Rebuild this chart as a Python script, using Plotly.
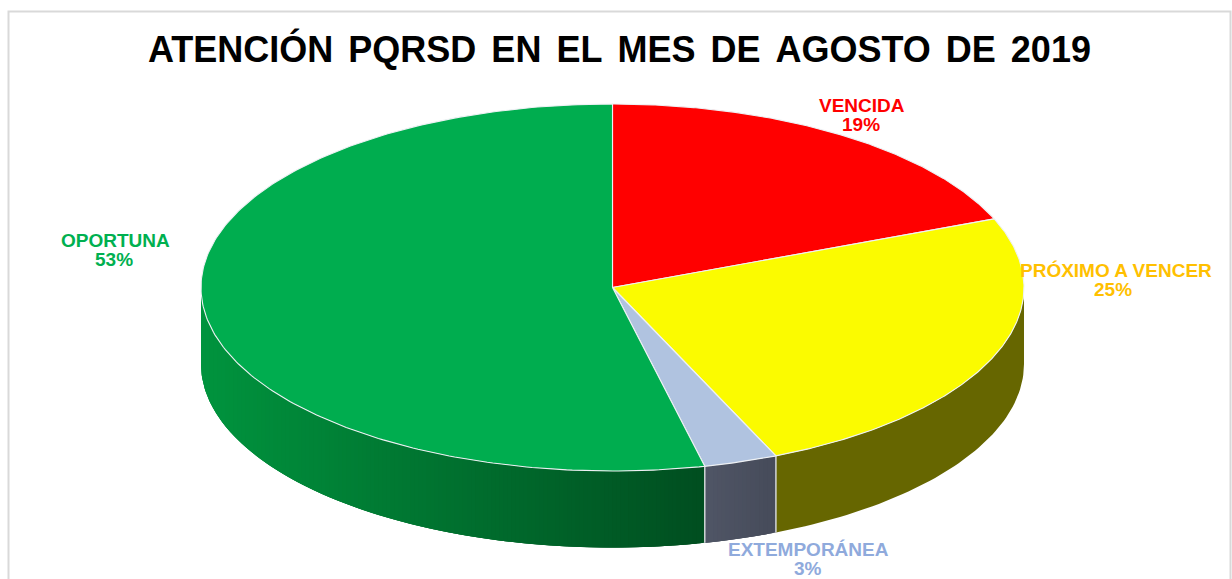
import numpy as np
import plotly.graph_objects as go

categories = ["VENCIDA", "PRÓXIMO A VENCER", "EXTEMPORÁNEA", "OPORTUNA"]
values = [18.9, 24.6, 2.9, 53.6]
percent_labels = ["19%", "25%", "3%", "53%"]
top_colors = ["#FF0000", "#FBFB00", "#B0C3E0", "#00AD4F"]
label_colors = ["#FF0000", "#FFC000", "#8FAADC", "#00B050"]
title_text = "ATENCIÓN PQRSD EN EL MES DE AGOSTO DE 2019".replace(" ", "\u2004\u200a")

CX, CY, RX, RY, DEPTH = 612.5, 287.5, 411.5, 183.5, 76.5


def px(t):
    return CX + RX * np.sin(t)


def py(t):
    return CY - RY * np.cos(t)


def lerp_color(a, b, f):
    return "rgb({},{},{})".format(*[int(round(a[i] + (b[i] - a[i]) * f)) for i in range(3)])


fig = go.Figure()
edges = np.concatenate([[0], np.cumsum(values)]) / sum(values) * 2 * np.pi

# side wall: only the front half (pi/2 .. 3pi/2) is visible
side_styles = [
    None,
    ((102, 102, 0), (102, 102, 0)),
    ((70, 75, 90), (80, 86, 102)),
    ((0, 78, 32), (0, 148, 62)),
]
lo, hi = np.pi / 2, 3 * np.pi / 2
for i, style in enumerate(side_styles):
    if style is None:
        continue
    a, b = max(edges[i], lo), min(edges[i + 1], hi)
    if a >= b:
        continue
    xa, xb = px(a), px(b)
    n = 1 if style[0] == style[1] else max(4, int(abs(xa - xb) / 4))
    # cut at even x steps so that the shading bands run straight down
    cut_x = np.linspace(xa, xb, n + 1)
    cuts = np.pi - np.arcsin(np.clip((cut_x - CX) / RX, -1, 1))
    cuts[0], cuts[-1] = a, b
    for j in range(n):
        # each band reaches under the following ones, so no seam shows
        end = cuts[min(j + 3, n)]
        ts = np.linspace(cuts[j], end, 60 if n == 1 else 14)
        xs, ys = px(ts), py(ts)
        f = (xa - cut_x[j]) / abs(xa - xb)
        col = lerp_color(style[0], style[1], f)
        fig.add_trace(go.Scatter(
            x=np.r_[xs, xs[::-1]], y=np.r_[ys, ys[::-1] + DEPTH],
            mode="lines", fill="toself", fillcolor=col,
            line=dict(width=0), hoverinfo="skip", showlegend=False))

# vertical white seams on the wall
for e in edges[1:-1]:
    if lo < e < hi:
        fig.add_trace(go.Scatter(
            x=[px(e), px(e)], y=[py(e), py(e) + DEPTH], mode="lines",
            line=dict(color="#DADDE0", width=1.4), hoverinfo="skip", showlegend=False))

# top faces
for i, cat in enumerate(categories):
    ts = np.linspace(edges[i], edges[i + 1], 240)
    fig.add_trace(go.Scatter(
        x=np.r_[CX, px(ts), CX], y=np.r_[CY, py(ts), CY],
        mode="lines", fill="toself", fillcolor=top_colors[i],
        line=dict(color="#EEF1F4", width=1.1), name=cat, hoverinfo="name", showlegend=False))

name_anchor = [(862, 105), (1115.5, 270), (808.5, 549), (115, 240)]
pct_anchor = [(861, 124), (1113, 289), (808, 568), (114, 259)]
label_font = dict(family="Liberation Sans", size=19, weight="bold")
for cat, pct, col, na, pa in zip(categories, percent_labels, label_colors, name_anchor, pct_anchor):
    for text, (lx, ly) in ((cat, na), (pct, pa)):
        fig.add_annotation(x=lx, y=ly, text=text, showarrow=False,
                           font=dict(label_font, color=col),
                           xanchor="center", yanchor="middle")

fig.add_annotation(x=619.5, y=49, text=title_text, showarrow=False,
                   font=dict(family="Liberation Sans", size=36, color="#000000", weight="bold"),
                   xanchor="center", yanchor="middle")

fig.add_shape(type="rect", x0=8.5, x1=1230.5, y0=11.5, y1=640,
              line=dict(color="#D9D9D9", width=2), layer="below")

fig.update_layout(
    width=1232, height=579, margin=dict(l=0, r=0, t=0, b=0),
    paper_bgcolor="white", plot_bgcolor="white", showlegend=False,
    xaxis=dict(range=[0, 1232], visible=False, fixedrange=True),
    yaxis=dict(range=[579, 0], visible=False, fixedrange=True),
)
fig.write_html("out.html", config={"displayModeBar": False},
               post_script="document.documentElement.style.overflow='hidden';document.body.style.margin='0';")
